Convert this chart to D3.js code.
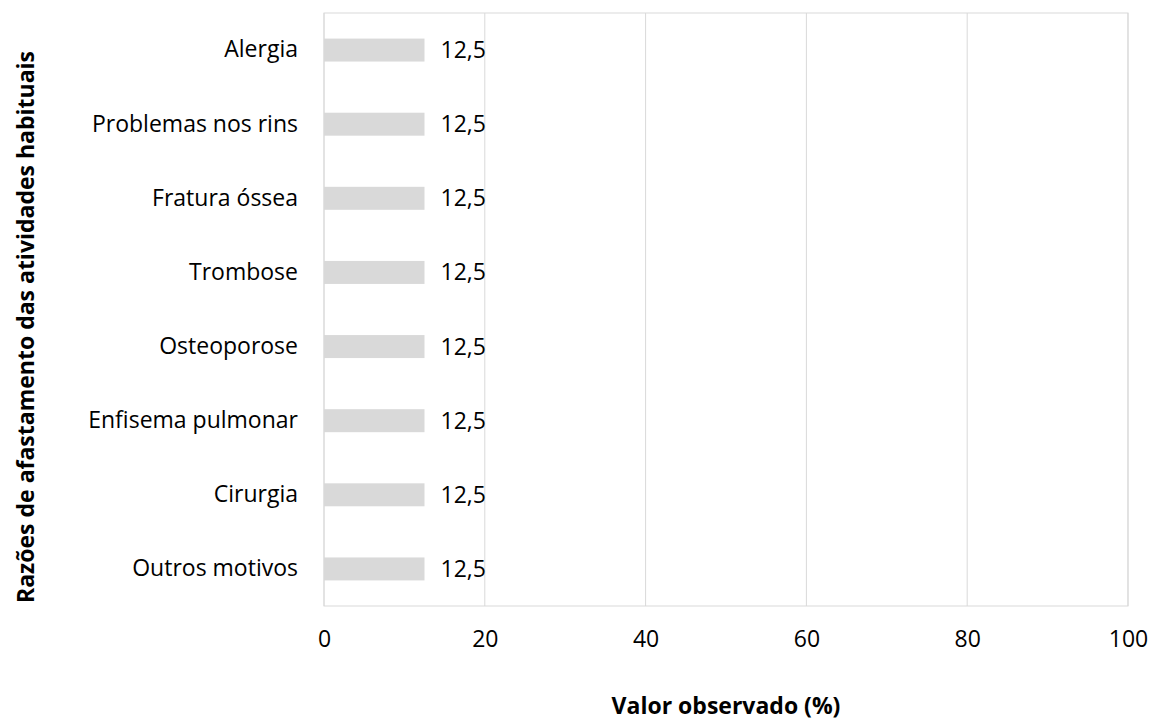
<!DOCTYPE html>
<html>
<head>
<meta charset="utf-8">
<script src="https://cdn.jsdelivr.net/npm/d3@7"></script>
<style>
  body { margin: 0; background: #fff; }
  text { font-family: "Open Sans", sans-serif; fill: #000; }
</style>
</head>
<body>
<div id="chart"></div>
<script>
let categories = ["Alergia", "Problemas nos rins", "Fratura óssea", "Trombose",
                  "Osteoporose", "Enfisema pulmonar", "Cirurgia", "Outros motivos"];
let values = [12.5, 12.5, 12.5, 12.5, 12.5, 12.5, 12.5, 12.5];
let xTicks = [0, 20, 40, 60, 80, 100];

let margin = {top: 13, right: 26, bottom: 114, left: 324};
let width = 1154 - margin.left - margin.right;
let height = 720 - margin.top - margin.bottom;
let fontSize = "23px";

let svg = d3.select("#chart")
            .append("svg")
            .attr("width", 1154)
            .attr("height", 720);
let g = svg.append("g")
           .attr("transform", "translate(" + margin.left + "," + margin.top + ")");

let x = d3.scaleLinear().domain([0, 100]).range([0, width]);
let y = d3.scaleBand().domain(categories).range([0, height]).paddingInner(0.69).paddingOuter(0.345);

// gridlines
g.append("g")
 .selectAll("line")
 .data(xTicks)
 .enter().append("line")
   .attr("x1", d => x(d)).attr("x2", d => x(d))
   .attr("y1", 0).attr("y2", height)
   .attr("stroke", "#d9d9d9").attr("stroke-width", 1);

// plot border
g.append("rect")
 .attr("x", 0).attr("y", 0)
 .attr("width", width).attr("height", height)
 .attr("fill", "none").attr("stroke", "#d9d9d9");

// bars
g.append("g")
 .selectAll("rect")
 .data(values)
 .enter().append("rect")
   .attr("x", 0)
   .attr("y", (d, i) => y(categories[i]))
   .attr("width", d => x(d))
   .attr("height", y.bandwidth())
   .attr("fill", "#d9d9d9");

// value labels
g.append("g")
 .selectAll("text")
 .data(values)
 .enter().append("text")
   .attr("x", d => x(d) + 16)
   .attr("y", (d, i) => y(categories[i]) + y.bandwidth() / 2)
   .attr("dy", "0.35em")
   .style("font-size", fontSize)
   .text(d => String(d).replace(".", ","));

// y axis labels
let yAxis = g.append("g")
             .call(d3.axisLeft(y).tickSize(0).tickPadding(26));
yAxis.select(".domain").remove();
yAxis.selectAll("text").style("font-size", fontSize).style("font-family", "'Open Sans', sans-serif");

// x axis labels
let xAxis = g.append("g")
             .attr("transform", "translate(0," + height + ")")
             .call(d3.axisBottom(x).tickValues(xTicks).tickSize(0).tickPadding(25));
xAxis.select(".domain").remove();
xAxis.selectAll("text").style("font-size", fontSize).style("font-family", "'Open Sans', sans-serif");

// axis titles
svg.append("text")
   .attr("x", margin.left + width / 2)
   .attr("y", 714)
   .attr("text-anchor", "middle")
   .style("font-size", fontSize)
   .style("font-weight", "bold")
   .text("Valor observado (%)");

svg.append("text")
   .attr("transform", "translate(34,327) rotate(-90)")
   .attr("text-anchor", "middle")
   .style("font-size", fontSize)
   .style("font-weight", "bold")
   .text("Razões de afastamento das atividades habituais");
</script>
</body>
</html>
